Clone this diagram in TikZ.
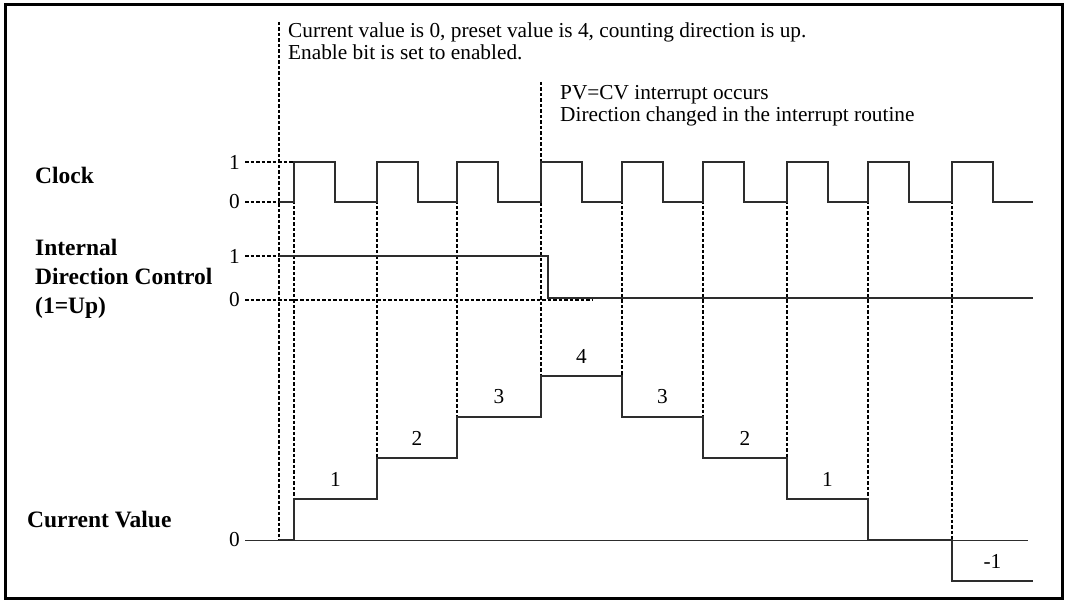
\documentclass[tikz,border=0pt]{standalone}
\usepackage{fontspec}
\setmainfont{Liberation Serif}
\usepackage{tikz}
\usetikzlibrary{positioning, calc}
\definecolor{wavegray}{RGB}{45,45,45}
\tikzset{
  frame/.style={draw=black, line width=3pt},
  wave/.style={draw=wavegray, line width=1.6pt},
  guide/.style={draw=black, line width=1.1pt, dash pattern=on 3.5pt off 2pt},
  zeroline/.style={draw=wavegray, line width=0.9pt},
  note/.style={font=\fontsize{21.3}{22.5}\selectfont, align=left, inner sep=0pt, anchor=base west},
  sig/.style={font=\fontsize{23.5}{29}\selectfont\bfseries, align=left, inner sep=0pt, anchor=base west},
  lvl/.style={font=\fontsize{21.3}{23}\selectfont, inner sep=0pt, anchor=east},
  stepval/.style={font=\fontsize{21.3}{23}\selectfont, inner sep=0pt, above=12pt}
}

\begin{document}
\begin{tikzpicture}[x=1pt, y=-1pt]
  \useasboundingbox (0,0) rectangle (1065,601);
  \draw[frame] (5,5) rectangle (1062,598);

  % Signal names (base = last line)
  \node[sig] (clk) at (35,184) {Clock};
  \node[sig] (dir) at (35,314) {Internal\\Direction Control\\(1=Up)};
  \node[sig] (cv) at (27,527) {Current Value};

  % Level marks
  \node[lvl] (clkhi) at (240,162) {1};
  \node[lvl] (clklo) at (240,202) {0};
  \node[lvl] (dirhi) at (240,256) {1};
  \node[lvl] (dirlo) at (240,300) {0};
  \node[lvl] (cvzero) at (240,540) {0};
  \draw[guide] (clkhi.east) ++(5,0) -- (300,162);
  \draw[guide] (clklo.east) ++(5,0) -- (293,202);
  \draw[guide] (dirhi.east) ++(5,0) -- (279,256);
  \draw[guide] (dirlo.east) ++(5,0) -- (592,300);
  \draw[zeroline] (cvzero.east) ++(5,0) -- (1028,540);

  % Notes
  \node[note] (start) at (288,60) {Current value is 0, preset value is 4, counting direction is up.\\Enable bit is set to enabled.};
  \node[note] (irq) at (560,122) {PV=CV interrupt occurs\\Direction changed in the interrupt routine};
  \draw[guide] (279,22) -- (279,540);
  \draw[guide] (541,82) -- (541,376);

  % Clock edges
  \foreach \r/\b in {294/499, 377/458, 457/417, 622/376, 703/417, 787/458, 868/499, 952/540}
    \draw[guide] (\r,162) -- (\r,\b);

  % Waveforms
  \draw[wave] (279,202) foreach \r in {294,377,457,541,622,703,787,868,952} {
    -- (\r,202) -- (\r,162) -- ++(41,0) -- ++(0,40) } -- (1033,202);
  \draw[wave] (279,256) -- (548,256) -- (548,298) -- (1033,298);
  \draw[wave] (279,540) -- (294,540) -- (294,499)
    -- node[stepval] (v1) {1} (377,499) -- (377,458)
    -- node[stepval] (v2) {2} (457,458) -- (457,417)
    -- node[stepval] (v3) {3} (541,417) -- (541,376)
    -- node[stepval] (v4) {4} (622,376) -- (622,417)
    -- node[stepval] (v5) {3} (703,417) -- (703,458)
    -- node[stepval] (v6) {2} (787,458) -- (787,499)
    -- node[stepval] (v7) {1} (868,499) -- (868,540)
    -- (952,540) -- (952,581)
    -- node[stepval] (v8) {-1} (1033,581);
\end{tikzpicture}
\end{document}
